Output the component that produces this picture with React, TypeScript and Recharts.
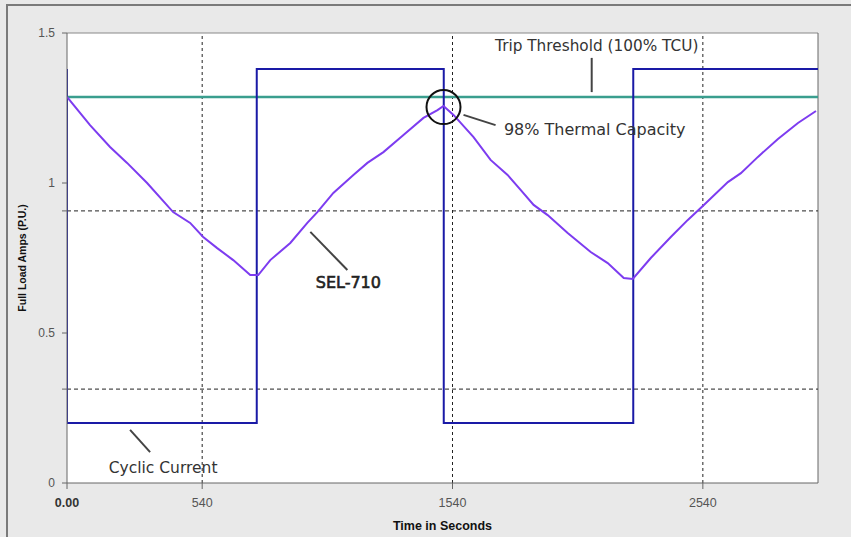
import React from "react";
import {
  LineChart,
  Line,
  XAxis,
  YAxis,
  CartesianGrid,
  ReferenceLine,
  ReferenceDot,
} from "recharts";

// SEL-710 thermal model curve (time in seconds, per-unit amps)
const thermalTime = [
  0, 92, 172, 240, 320, 424, 492, 544, 600, 664, 732, 764, 812, 892, 960,
  1000, 1064, 1144, 1200, 1264, 1344, 1424, 1480, 1504, 1544, 1624, 1692,
  1760, 1812, 1864, 1920, 2000, 2092, 2160, 2224, 2260, 2332, 2412, 2480,
  2544, 2640, 2692, 2760, 2840, 2920, 2992,
];
const thermalAmps = [
  1.287, 1.193, 1.12, 1.067, 1.0, 0.903, 0.867, 0.82, 0.783, 0.743, 0.693,
  0.693, 0.743, 0.8, 0.867, 0.903, 0.967, 1.027, 1.067, 1.103, 1.16, 1.217,
  1.243, 1.257, 1.227, 1.153, 1.077, 1.027, 0.977, 0.927, 0.893, 0.833, 0.77,
  0.733, 0.683, 0.68, 0.75, 0.82, 0.877, 0.927, 1.003, 1.033, 1.087, 1.147,
  1.2, 1.24,
];

// cyclic load current (square wave)
const cyclicTime = [0, 0, 758, 758, 1505, 1505, 2262, 2262, 3000];
const cyclicAmps = [1.38, 0.2, 0.2, 1.38, 1.38, 0.2, 0.2, 1.38, 1.38];

// trip threshold
const tripTime = [0, 3000];
const tripAmps = [1.287, 1.287];

const xTicks = [0, 540, 1540, 2540];
const yTicks = [0, 0.313, 0.5, 0.907, 1, 1.5];
const yLabelled = [0, 0.5, 1, 1.5];
const xGrid = [540, 1540, 2540];
const yGrid = [0.907, 0.313];

const zip = (t: number[], v: number[]) => t.map((x, i) => ({ t: x, v: v[i] }));
const thermalData = zip(thermalTime, thermalAmps);
const cyclicData = zip(cyclicTime, cyclicAmps);
const tripData = zip(tripTime, tripAmps);

const AXIS_FONT = "'Liberation Sans', Arial, sans-serif";
const NOTE_FONT = "'DejaVu Sans', sans-serif";

const XTick = (props: any) => {
  const { x, y, payload } = props;
  const first = payload.value === 0;
  return (
    <text
      x={x}
      y={y}
      dy={15}
      textAnchor="middle"
      fontFamily={AXIS_FONT}
      fontSize={12.5}
      fontWeight={first ? "bold" : "normal"}
      fill={first ? "#333" : "#555"}
    >
      {first ? "0.00" : String(payload.value)}
    </text>
  );
};

const note = (text: string, size: number, heavy = false) =>
  (p: any) => (
    <text
      x={p.cx}
      y={p.cy}
      textAnchor="middle"
      dominantBaseline="central"
      fontFamily={NOTE_FONT}
      fontSize={size}
      fill={heavy ? "#222" : "#333"}
      stroke={heavy ? "#222" : "none"}
      strokeWidth={heavy ? 0.6 : 0}
    >
      {text}
    </text>
  );

export default function App() {
  return (
    <div
      style={{
        position: "absolute",
        left: 0,
        top: 0,
        width: 851,
        height: 537,
        background: "#e9e9e9",
        overflow: "hidden",
      }}
    >
      <div
        style={{
          position: "absolute",
          left: 6,
          top: 4,
          width: 900,
          height: 600,
          borderTop: "2px solid #7a7a7a",
          borderLeft: "2px solid #7a7a7a",
        }}
      />
      <div style={{ position: "absolute", left: 0, top: 0 }}>
        <LineChart
          width={851}
          height={537}
          margin={{ top: 33, right: 33, bottom: 24, left: 7 }}
        >
          <CartesianGrid fill="#ffffff" horizontal={false} vertical={false} />
          <XAxis
            type="number"
            dataKey="t"
            domain={[0, 3000]}
            ticks={xTicks}
            allowDataOverflow
            height={30}
            tickSize={6}
            tickMargin={3}
            tick={<XTick />}
            axisLine={{ stroke: "#666" }}
            tickLine={{ stroke: "#666" }}
            label={{
              content: (p: any) => (
                <text
                  x={p.viewBox.x + p.viewBox.width / 2}
                  y={p.viewBox.y + 47}
                  textAnchor="middle"
                  fontFamily={AXIS_FONT}
                  fontSize={12.5}
                  fontWeight="bold"
                  fill="#111"
                >
                  Time in Seconds
                </text>
              ),
            }}
          />
          <YAxis
            type="number"
            dataKey="v"
            domain={[0, 1.5]}
            ticks={yTicks}
            width={60}
            tickSize={5}
            tickMargin={7}
            tickFormatter={(v: number) => (yLabelled.includes(v) ? String(v) : "")}
            tick={{ fill: "#555", fontSize: 12, fontFamily: AXIS_FONT }}
            axisLine={{ stroke: "#666" }}
            tickLine={{ stroke: "#666" }}
            label={{
              content: (p: any) => {
                const cx = p.viewBox.x + 15;
                const cy = p.viewBox.y + p.viewBox.height / 2;
                return (
                  <text
                    x={cx}
                    y={cy}
                    transform={`rotate(-90 ${cx} ${cy})`}
                    textAnchor="middle"
                    dominantBaseline="central"
                    fontFamily={AXIS_FONT}
                    fontSize={10.5}
                    fontWeight="bold"
                    fill="#111"
                  >
                    Full Load Amps (P.U.)
                  </text>
                );
              },
            }}
          />
          <ReferenceLine y={1.5} stroke="#888" />
          <ReferenceLine x={3000} stroke="#666" />
          {xGrid.map((x) => (
            <ReferenceLine key={`gx${x}`} x={x} stroke="#222" strokeDasharray="3 3" />
          ))}
          {yGrid.map((y) => (
            <ReferenceLine key={`gy${y}`} y={y} stroke="#222" strokeDasharray="4 3" />
          ))}

          <Line
            data={tripData}
            dataKey="v"
            type="linear"
            stroke="#3a9e8e"
            strokeWidth={2.5}
            dot={false}
            isAnimationActive={false}
          />
          <Line
            data={cyclicData}
            dataKey="v"
            type="linear"
            stroke="#1a1aa6"
            strokeWidth={2}
            dot={false}
            isAnimationActive={false}
          />
          <Line
            data={thermalData}
            dataKey="v"
            type="linear"
            stroke="#7d3cf0"
            strokeWidth={2}
            dot={false}
            isAnimationActive={false}
          />

          {/* annotations */}
          <ReferenceLine
            segment={[{ x: 2096, y: 1.417 }, { x: 2096, y: 1.303 }]}
            stroke="#444"
            strokeWidth={2}
          />
          <ReferenceDot x={2116} y={1.457} r={0} shape={note("Trip Threshold (100% TCU)", 15.3)} />
          <ReferenceDot x={1504} y={1.253} r={17} fill="none" stroke="#111" strokeWidth={2} />
          <ReferenceLine
            segment={[{ x: 1584, y: 1.227 }, { x: 1712, y: 1.193 }]}
            stroke="#444"
            strokeWidth={2}
          />
          <ReferenceDot x={2108} y={1.18} r={0} shape={note("98% Thermal Capacity", 16)} />
          <ReferenceLine
            segment={[{ x: 972, y: 0.837 }, { x: 1120, y: 0.71 }]}
            stroke="#444"
            strokeWidth={2}
          />
          <ReferenceDot x={1124} y={0.667} r={0} shape={note("SEL-710", 16, true)} />
          <ReferenceLine
            segment={[{ x: 252, y: 0.177 }, { x: 332, y: 0.103 }]}
            stroke="#444"
            strokeWidth={2}
          />
          <ReferenceDot x={384} y={0.05} r={0} shape={note("Cyclic Current", 15.5)} />
        </LineChart>
      </div>
    </div>
  );
}
